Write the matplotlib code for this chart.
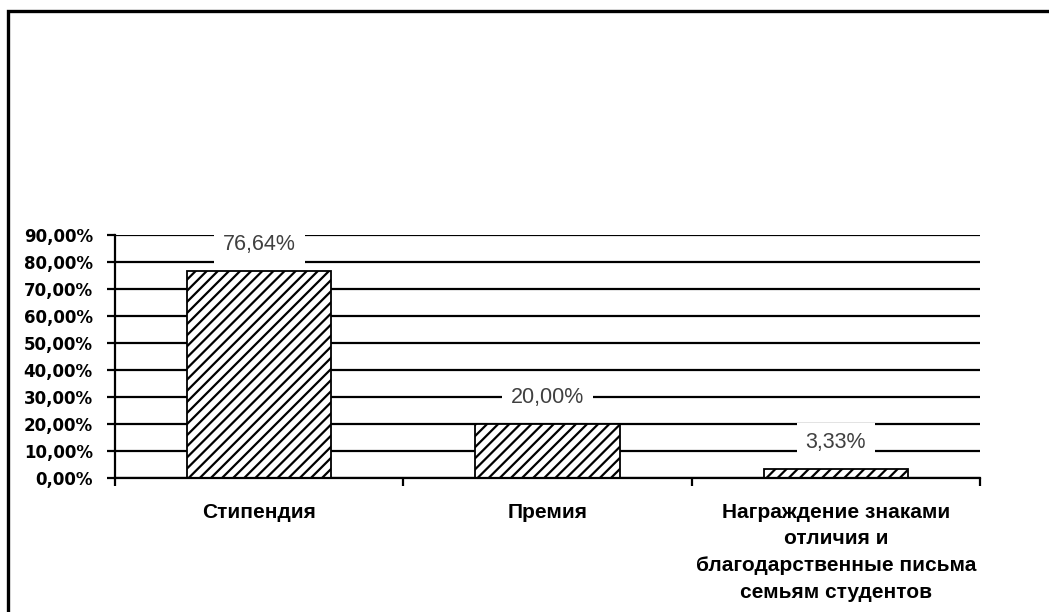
import matplotlib
matplotlib.use("Agg")
import matplotlib.pyplot as plt
from matplotlib.patches import Rectangle
from matplotlib.ticker import FixedLocator, FuncFormatter

categories = [
    "Стипендия",
    "Премия",
    "Награждение знаками\nотличия и\nблагодарственные письма\nсемьям студентов",
]
shares = [76.64, 20.00, 3.33]
y_ticks = [0, 10, 20, 30, 40, 50, 60, 70, 80, 90]

plt.rcParams["hatch.linewidth"] = 1.6

fig = plt.figure(figsize=(10.49, 6.12), dpi=100)
ax = fig.add_axes([115 / 1049, 1 - 478 / 612, (980 - 115) / 1049, (478 - 235) / 612])

x = list(range(len(categories)))
ax.bar(x, shares, width=0.5, color="white", edgecolor="black",
       linewidth=1.3, hatch="///", zorder=2)

for xi, v in zip(x, shares):
    ax.annotate(f"{v:.2f}%".replace(".", ","), (xi, v),
                xytext=(0, 19), textcoords="offset points",
                ha="center", va="center", fontsize=15.5, color="#404040",
                family="Liberation Sans",
                bbox=dict(boxstyle="square,pad=0.42", fc="white", ec="none"),
                zorder=4)

ax.set_xlim(-0.5, len(categories) - 0.5)
ax.set_ylim(0, 90)
ax.yaxis.set_major_locator(FixedLocator(y_ticks))
ax.yaxis.set_major_formatter(FuncFormatter(lambda v, _: f"{v:.2f}%".replace(".", ",")))
ax.grid(axis="y", color="black", linewidth=1.6, zorder=0)
ax.set_axisbelow(True)

ax.set_xticks(x)
ax.set_xticklabels(categories, fontsize=15, fontweight="bold",
                   family="Liberation Sans", linespacing=1.5)
ax.set_xticks([i - 0.5 for i in range(len(categories) + 1)], minor=True)
ax.tick_params(axis="x", which="major", length=0, pad=18)
ax.tick_params(axis="x", which="minor", length=6, width=1.6, direction="out")
ax.tick_params(axis="y", length=6, width=1.6, direction="out", pad=10)
for lbl in ax.get_yticklabels():
    lbl.set_fontsize(12)
    lbl.set_fontweight("bold")
    lbl.set_family("DejaVu Sans")

for side in ("top", "right"):
    ax.spines[side].set_visible(False)
for side in ("left", "bottom"):
    ax.spines[side].set_linewidth(1.6)

fig.patches.append(Rectangle((8 / 1049, -0.1), 1.2, 1.1 - 11 / 612,
                             transform=fig.transFigure, fill=False,
                             edgecolor="black", linewidth=2.4))

fig.savefig("out.png", dpi=100)
